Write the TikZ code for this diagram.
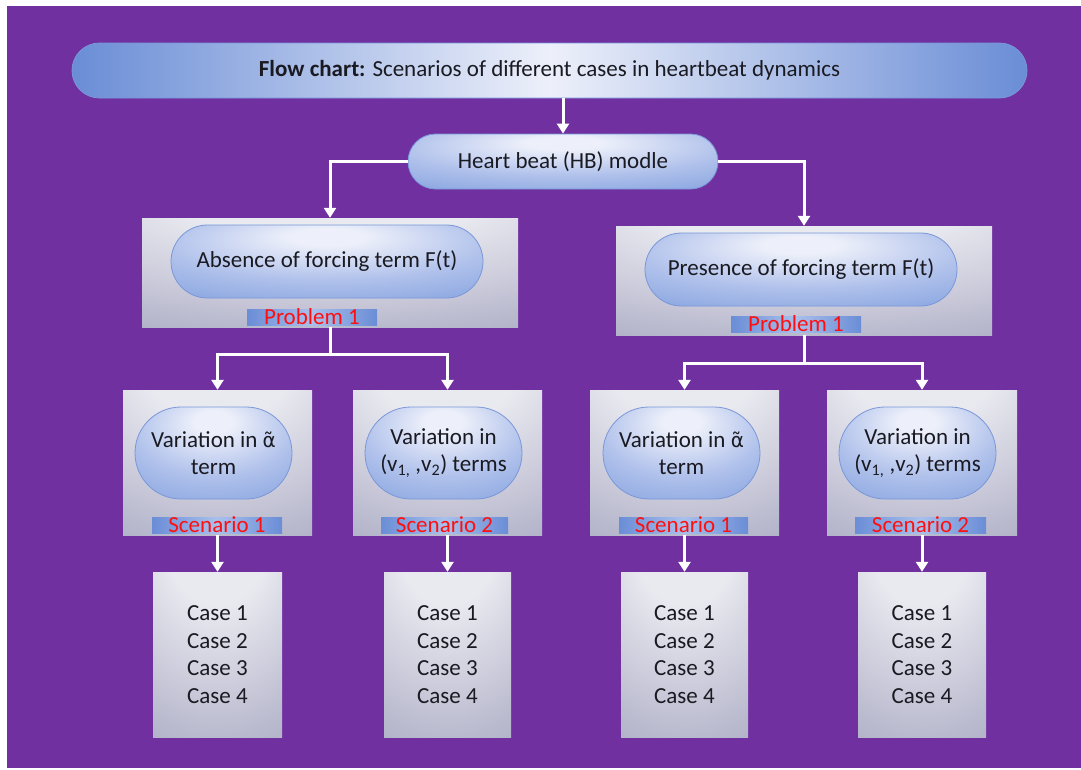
\documentclass[tikz,border=0pt]{standalone}
\usepackage{fontspec}
\setmainfont{Carlito}
\newfontfamily\accentfont{DejaVu Sans}
\usetikzlibrary{shapes.misc,arrows.meta}

% palette
\definecolor{bgpurple}{HTML}{7030A0}
\definecolor{pilldark}{HTML}{6A8DD6}
\definecolor{pillmid}{HTML}{B0C1EB}
\definecolor{pillsoft}{HTML}{88A5E0}
\definecolor{pilllight}{HTML}{EDF0FA}
\definecolor{pillline}{HTML}{7A97D8}
\definecolor{boxlight}{HTML}{E9E9F0}
\definecolor{boxdark}{HTML}{72729C}
\definecolor{barlight}{HTML}{A9C0EC}
\definecolor{labelred}{HTML}{FF1010}
\definecolor{inktext}{HTML}{1A1A22}

% soft radial fills: bright spot near the top centre
\pgfdeclareradialshading{pillshade}{\pgfpoint{0bp}{18bp}}{%
  color(0bp)=(pilllight); color(6bp)=(pilllight);
  color(26bp)=(pillmid); color(44bp)=(pillsoft); color(56bp)=(pilldark); color(100bp)=(pilldark)}
\pgfdeclareradialshading{boxshade}{\pgfpoint{0bp}{42bp}}{%
  color(0bp)=(boxlight); color(20bp)=(boxlight);
  color(95bp)=(boxdark); color(120bp)=(boxdark)}

\tikzset{
  txt/.style={font=\fontsize{23pt}{27.7pt}\selectfont, text=inktext, align=center},
  pill/.style={rounded rectangle, inner sep=0pt, shading=pillshade, draw=pillline, line width=0.8pt, txt},
  titlepill/.style={rounded rectangle, inner sep=0pt, left color=pilldark, right color=pilldark,
    middle color=pilllight, draw=pillline, line width=0.8pt, txt},
  panel/.style={rectangle, inner sep=0pt, shading=boxshade},
  tag/.style={rectangle, inner sep=0pt, left color=pilldark, right color=pilldark, middle color=barlight,
    font=\fontsize{23pt}{27.7pt}\selectfont, text=labelred, text height=15pt, text depth=1pt},
  arr/.style={draw=white, line width=3pt, -{Triangle[width=12pt,length=10pt]}},
  link/.style={draw=white, line width=3pt},
}

% alpha with combining tilde, set in a font that carries the mark
\newcommand\atil{{\accentfont\fontsize{20pt}{27.7pt}\selectfont α̃}}

\begin{document}
\begin{tikzpicture}[x=1pt,y=-1pt]
\useasboundingbox (0,0) rectangle (1081,769);
\fill[white] (0,0) rectangle (1081,769);
\fill[bgpurple] (7,6) rectangle (1081,768);

% title and model
\node[titlepill, minimum width=955pt, minimum height=55pt] (title) at (549.5,70.5)
  {\textbf{Flow chart:} Scenarios of different cases in heartbeat dynamics};
\node[pill, minimum width=310pt, minimum height=55pt] (hb) at (563,161.5) {Heart beat (HB) modle};

% forcing term panels
\node[panel, minimum width=376pt, minimum height=109pt] (absbox) at (330,272.5) {};
\node[pill, minimum width=312pt, minimum height=73pt] (abspill) at (327,261.5) {Absence of forcing term F(t)};
\node[tag, minimum width=130pt] (probA) at (312,317) {Problem 1};

\node[panel, minimum width=376pt, minimum height=109pt] (presbox) at (804,280.5) {};
\node[pill, minimum width=312pt, minimum height=73pt] (prespill) at (801,269.5) {Presence of forcing term F(t)};
\node[tag, minimum width=130pt] (probB) at (796,324.5) {Problem 1};

% scenario panels
\node[panel, minimum width=189pt, minimum height=145pt] (sA) at (217.5,462.5) {};
\node[pill, minimum width=157pt, minimum height=92pt] (sApill) at (213.5,453) {Variation in \atil\\term};
\node[tag, minimum width=130pt] (scA) at (217,525) {Scenario 1};

\node[panel, minimum width=189pt, minimum height=145pt] (sB) at (447.5,462.5) {};
\node[pill, minimum width=157pt, minimum height=92pt] (sBpill) at (443.5,453) {Variation in\\(v\textsubscript{1,} ,v\textsubscript{2}) terms};
\node[tag, minimum width=127pt] (scB) at (444.5,525) {Scenario 2};

\node[panel, minimum width=189pt, minimum height=145pt] (sC) at (684.5,462.5) {};
\node[pill, minimum width=157pt, minimum height=92pt] (sCpill) at (681.5,453) {Variation in \atil\\term};
\node[tag, minimum width=129pt] (scC) at (683.5,525) {Scenario 1};

\node[panel, minimum width=190pt, minimum height=145pt] (sD) at (922,462.5) {};
\node[pill, minimum width=157pt, minimum height=92pt] (sDpill) at (917.5,453) {Variation in\\(v\textsubscript{1,} ,v\textsubscript{2}) terms};
\node[tag, minimum width=131pt] (scD) at (920.5,525) {Scenario 2};

% case lists
\foreach \nm/\cx/\w in {cA/217.5/129, cB/447.5/127, cC/684.5/127, cD/922/128}
  \node[panel, txt, minimum width=\w pt, minimum height=165pt] (\nm) at (\cx,654.5)
    {Case 1\\Case 2\\Case 3\\Case 4};

% connectors
\draw[arr] (title.south -| hb.north) -- (hb.north);
\draw[arr] (hb.west) -| (absbox.north);
\draw[arr] (hb.east) -| (presbox.north);

\coordinate (forkL) at (330,354);
\draw[link] (absbox.south) -- (forkL);
\draw[arr] (forkL) -| (sA.north);
\draw[arr] (forkL) -| (sB.north);

\coordinate (forkR) at (804,363);
\draw[link] (presbox.south) -- (forkR);
\draw[arr] (forkR) -| (sC.north);
\draw[arr] (forkR) -| (sD.north);

\draw[arr] (sA.south) -- (cA.north);
\draw[arr] (sB.south) -- (cB.north);
\draw[arr] (sC.south) -- (cC.north);
\draw[arr] (sD.south) -- (cD.north);
\end{tikzpicture}
\end{document}
